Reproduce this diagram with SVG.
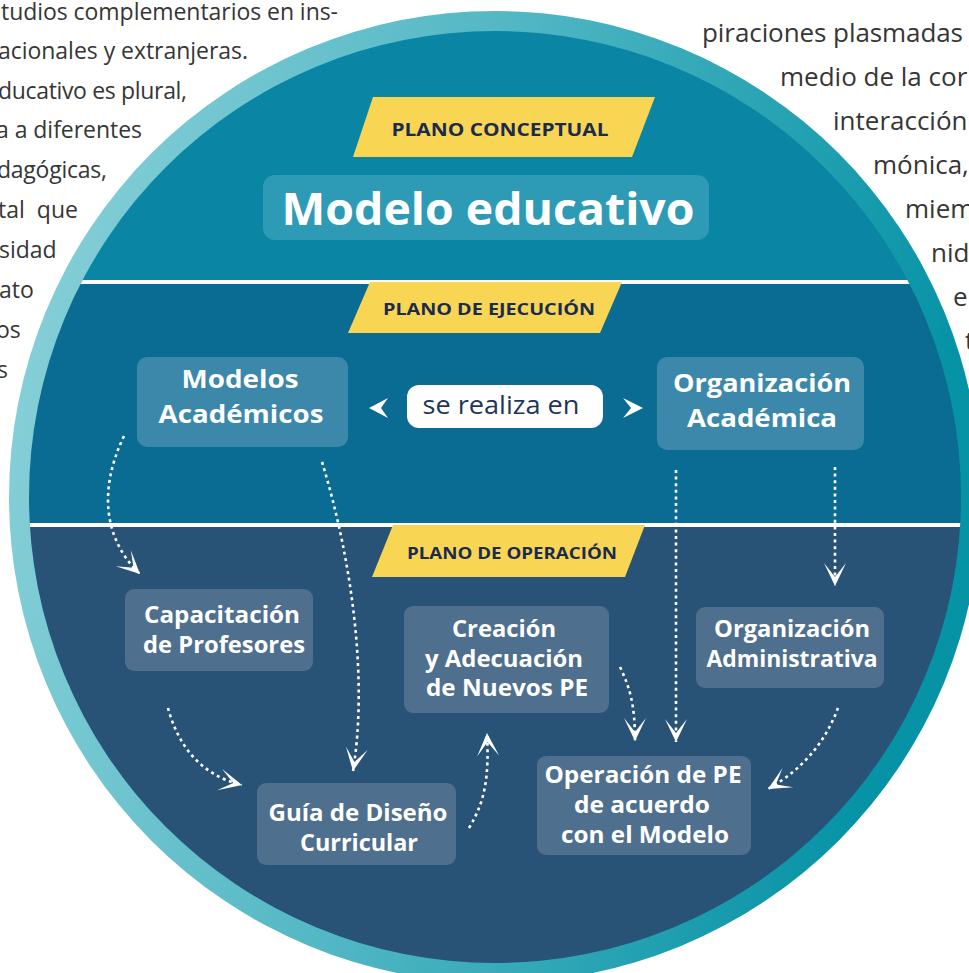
<svg xmlns="http://www.w3.org/2000/svg" width="969" height="973" viewBox="0 0 969 973">
<style>
.page{font-family:"Open Sans","Noto Sans","DejaVu Sans",sans-serif;fill:#363636;}
.pl{font-size:23px;}
.pr{font-size:26px;}
.lbl{font-family:"Open Sans","Noto Sans","DejaVu Sans",sans-serif;font-weight:700;fill:#1b2b4f;text-anchor:middle;}
.nt{font-family:"Open Sans","Noto Sans","DejaVu Sans",sans-serif;font-weight:700;fill:#ffffff;text-anchor:middle;}
.mid{font-size:25px;}
.bot{font-size:23px;}
.band{fill:#f8d654;}
.boxM{fill:#3b88aa;}
.boxB{fill:#4f6f8e;}
.conn{fill:none;stroke:#ffffff;stroke-width:2.6;stroke-dasharray:3 3.6;}
</style>
<defs>
<linearGradient id="ring" x1="0" y1="0" x2="1" y2="0.2">
<stop offset="0" stop-color="#8ed3db"/>
<stop offset="0.5" stop-color="#52b7c4"/>
<stop offset="1" stop-color="#0693a6"/>
</linearGradient>
<clipPath id="inner"><circle cx="495" cy="497" r="466"/></clipPath>
<marker id="ah" viewBox="-25 -12 27 24" refX="0" refY="0" markerWidth="27" markerHeight="24" markerUnits="userSpaceOnUse" orient="auto">
<path d="M0,0 L-23,-11 L-9,0 L-23,11 Z" fill="#ffffff"/>
</marker>
</defs>

<g id="page-text">
<text class="page pl" x="1" y="20" textLength="337">tudios complementarios en ins-</text>
<text class="page pl" x="-2" y="59" textLength="250">acionales y extranjeras.</text>
<text class="page pl" x="-2" y="99" textLength="189">ducativo es plural,</text>
<text class="page pl" x="-4" y="138" textLength="146">a a diferentes</text>
<text class="page pl" x="-3" y="178" textLength="110">dagógicas,</text>
<text class="page pl" x="-2" y="218" textLength="80" xml:space="preserve">tal  que</text>
<text class="page pl" x="-1" y="258">sidad</text>
<text class="page pl" x="-1" y="298">ato</text>
<text class="page pl" x="-4" y="338">os</text>
<text class="page pl" x="-3" y="378">s</text>
<text class="page pr" x="702" y="42" textLength="261">piraciones plasmadas</text>
<text class="page pr" x="780" y="86">medio de la cor</text>
<text class="page pr" x="833" y="130">interacción</text>
<text class="page pr" x="873" y="174">mónica,</text>
<text class="page pr" x="905" y="218">miem</text>
<text class="page pr" x="931" y="262">nid</text>
<text class="page pr" x="953" y="306">el</text>
<text class="page pr" x="965" y="350">t</text>
</g>

<g id="circle">
<circle cx="495" cy="497" r="486" fill="url(#ring)"/>
<g clip-path="url(#inner)">
<rect x="0" y="0" width="969" height="282" fill="#0a86a4"/>
<rect x="0" y="282" width="969" height="243" fill="#0a6b93"/>
<rect x="0" y="525" width="969" height="448" fill="#285276"/>
<line x1="0" y1="282" x2="969" y2="282" stroke="#ffffff" stroke-width="4"/>
<line x1="0" y1="525" x2="969" y2="525" stroke="#ffffff" stroke-width="4"/>
</g>
</g>

<g id="plano-conceptual">
<polygon class="band" points="373,97 655,97 632,157 353,157"/>
<text class="lbl" x="500" y="136" font-size="18" textLength="217" lengthAdjust="spacingAndGlyphs">PLANO CONCEPTUAL</text>
</g>
<g id="modelo-educativo">
<rect x="263" y="175" width="446" height="65" rx="12" fill="#2e9bb6"/>
<text class="nt" x="488" y="225" font-size="45" textLength="413" lengthAdjust="spacingAndGlyphs">Modelo educativo</text>
</g>

<g id="plano-ejecucion">
<polygon class="band" points="370,282 622,282 600,333 348,333"/>
<text class="lbl" x="489" y="315" font-size="16.5" textLength="212" lengthAdjust="spacingAndGlyphs">PLANO DE EJECUCIÓN</text>
</g>

<g id="modelos-academicos">
<rect class="boxM" x="137" y="357" width="211" height="90" rx="10"/>
<text class="nt mid" x="240" y="388" textLength="117" lengthAdjust="spacingAndGlyphs">Modelos</text>
<text class="nt mid" x="241" y="423" textLength="165" lengthAdjust="spacingAndGlyphs">Académicos</text>
</g>

<g id="se-realiza-en">
<path d="M369,408 L388,398 L381,408 L388,418 Z" fill="#ffffff"/>
<rect x="407" y="385" width="196" height="43" rx="12" fill="#ffffff"/>
<text x="501" y="414" font-family="'Open Sans','Noto Sans',sans-serif" font-size="25" fill="#1f3659" text-anchor="middle" textLength="157" lengthAdjust="spacingAndGlyphs">se realiza en</text>
<path d="M643,408 L623,398 L631,408 L623,418 Z" fill="#ffffff"/>
</g>

<g id="organizacion-academica">
<rect class="boxM" x="657" y="357" width="207" height="93" rx="10"/>
<text class="nt mid" x="762" y="392" textLength="178" lengthAdjust="spacingAndGlyphs">Organización</text>
<text class="nt mid" x="762" y="427" textLength="150" lengthAdjust="spacingAndGlyphs">Académica</text>
</g>

<g id="plano-operacion">
<polygon class="band" points="393,525 645,525 625,577 372,577"/>
<text class="lbl" x="512" y="559" font-size="16.5" textLength="210" lengthAdjust="spacingAndGlyphs">PLANO DE OPERACIÓN</text>
</g>

<g id="capacitacion">
<rect class="boxB" x="125" y="589" width="188" height="82" rx="9"/>
<text class="nt bot" x="222" y="623" textLength="156" lengthAdjust="spacingAndGlyphs">Capacitación</text>
<text class="nt bot" x="224" y="653" textLength="162" lengthAdjust="spacingAndGlyphs">de Profesores</text>
</g>

<g id="creacion">
<rect class="boxB" x="404" y="606" width="205" height="107" rx="9"/>
<text class="nt bot" x="504" y="637" textLength="104" lengthAdjust="spacingAndGlyphs">Creación</text>
<text class="nt bot" x="504" y="667" textLength="158" lengthAdjust="spacingAndGlyphs">y Adecuación</text>
<text class="nt bot" x="507" y="696" textLength="162" lengthAdjust="spacingAndGlyphs">de Nuevos PE</text>
</g>

<g id="organizacion-administrativa">
<rect class="boxB" x="696" y="607" width="188" height="81" rx="9"/>
<text class="nt bot" x="792" y="637" textLength="156" lengthAdjust="spacingAndGlyphs">Organización</text>
<text class="nt bot" x="792" y="667" textLength="171" lengthAdjust="spacingAndGlyphs">Administrativa</text>
</g>

<g id="guia">
<rect class="boxB" x="257" y="783" width="199" height="82" rx="9"/>
<text class="nt bot" x="358" y="821" textLength="179" lengthAdjust="spacingAndGlyphs">Guía de Diseño</text>
<text class="nt bot" x="359" y="851" textLength="118" lengthAdjust="spacingAndGlyphs">Curricular</text>
</g>

<g id="operacion">
<rect class="boxB" x="537" y="756" width="214" height="99" rx="9"/>
<text class="nt bot" x="643" y="783" textLength="197" lengthAdjust="spacingAndGlyphs">Operación de PE</text>
<text class="nt bot" x="642" y="813" textLength="136" lengthAdjust="spacingAndGlyphs">de acuerdo</text>
<text class="nt bot" x="645" y="843" textLength="168" lengthAdjust="spacingAndGlyphs">con el Modelo</text>
</g>

<g id="connectors">
<path class="conn" d="M124,436 C98,490 104,540 140,574" marker-end="url(#ah)"/>
<path class="conn" d="M322,462 C352,560 368,680 353,771" marker-end="url(#ah)"/>
<path class="conn" d="M168,708 C178,745 200,775 242,785" marker-end="url(#ah)"/>
<path class="conn" d="M469,828 C486,800 489,775 487,733" marker-end="url(#ah)"/>
<path class="conn" d="M620,667 C630,688 635,705 635,741" marker-end="url(#ah)"/>
<path class="conn" d="M676,470 L676,742" marker-end="url(#ah)"/>
<path class="conn" d="M835,467 L835,586" marker-end="url(#ah)"/>
<path class="conn" d="M838,708 C826,740 805,768 768,789" marker-end="url(#ah)"/>
</g>
</svg>
